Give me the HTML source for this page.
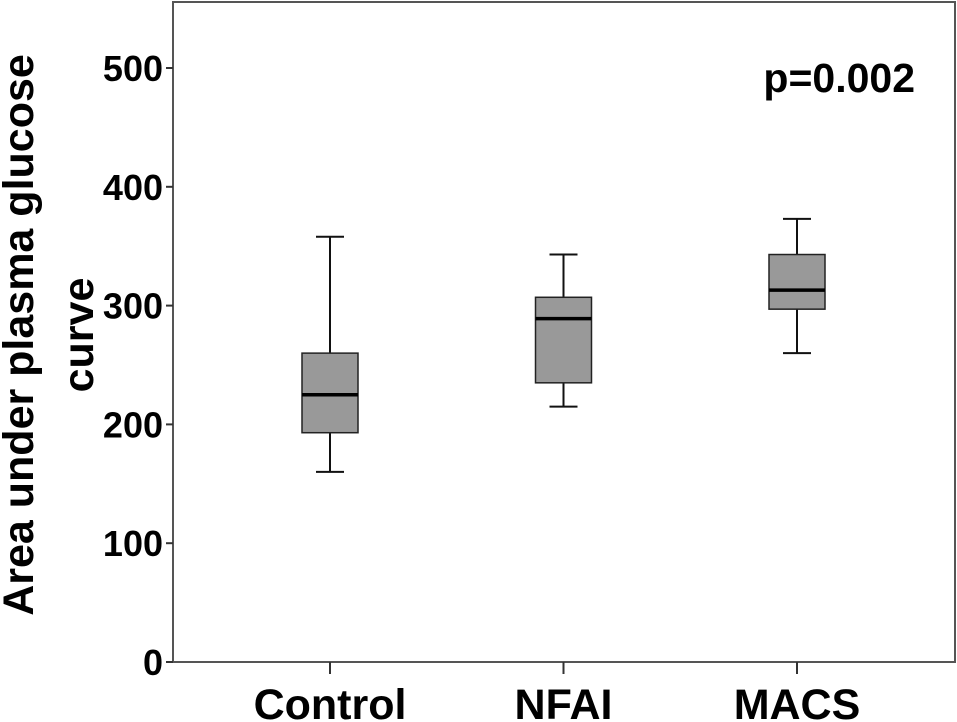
<!DOCTYPE html>
<html><head><meta charset="utf-8"><style>
body{margin:0;background:#fff;}
svg{display:block;font-family:"Liberation Sans",Arial,sans-serif;font-weight:bold;}
</style></head><body>
<svg id="chart" width="957" height="722" viewBox="0 0 957 722">
<rect x="173" y="2" width="782" height="660" fill="#fff" stroke="#555" stroke-width="2"/>
<g id="yaxis"></g>
<g id="xaxis"></g>
<g id="boxes"></g>
<text transform="translate(33,335) rotate(-90)" text-anchor="middle" font-size="43">Area under plasma glucose</text>
<text transform="translate(93,335) rotate(-90)" text-anchor="middle" font-size="43">curve</text>
<text x="915" y="92" text-anchor="end" font-size="41">p=0.002</text>
</svg>
<script>
const categories=["Control","NFAI","MACS"];
const mins=[160,215,260];
const q1s=[193,235,297];
const medians=[225,289,313];
const q3s=[260,307,343];
const maxs=[358,343,373];
const yTicks=[0,100,200,300,400,500];
const NS="http://www.w3.org/2000/svg";
function y(v){return 662-v*1.188;}
function x(i){return 330+i*233.5;}
function mk(tag,attrs,parent){const e=document.createElementNS(NS,tag);for(const k in attrs)e.setAttribute(k,attrs[k]);parent.appendChild(e);return e;}
const ya=document.getElementById('yaxis'),xa=document.getElementById('xaxis'),bx=document.getElementById('boxes');
yTicks.forEach(t=>{
 const l=mk('line',{x1:166,x2:173,y1:y(t),y2:y(t),stroke:'#333','stroke-width':2},ya);
 
 
 const tx=mk('text',{x:163,y:y(t)+13,'text-anchor':'end','font-size':36},ya);
 tx.textContent=t;
 
 
});
categories.forEach((c,i)=>{
 const cx=x(i);
 const l=mk('line',{x1:cx,x2:cx,y1:662,y2:674,stroke:'#333','stroke-width':2},xa);
 
 
 const tx=mk('text',{x:cx,y:719,'text-anchor':'middle','font-size':43},xa);
 tx.textContent=c;
 
 
 const g=mk('g',{},bx);
 
 
 const s={stroke:'#111','stroke-width':2};
 mk('line',Object.assign({x1:cx,x2:cx,y1:y(maxs[i]),y2:y(q3s[i])},s),g);
 mk('line',Object.assign({x1:cx,x2:cx,y1:y(q1s[i]),y2:y(mins[i])},s),g);
 mk('line',Object.assign({x1:cx-14,x2:cx+14,y1:y(maxs[i]),y2:y(maxs[i])},s),g);
 mk('line',Object.assign({x1:cx-14,x2:cx+14,y1:y(mins[i]),y2:y(mins[i])},s),g);
 mk('rect',{x:cx-28,y:y(q3s[i]),width:56,height:y(q1s[i])-y(q3s[i]),fill:'#999',stroke:'#222','stroke-width':1.5},g);
 mk('line',{x1:cx-28,x2:cx+28,y1:y(medians[i]),y2:y(medians[i]),stroke:'#000','stroke-width':3.5},g);
});
</script>
</body></html>
